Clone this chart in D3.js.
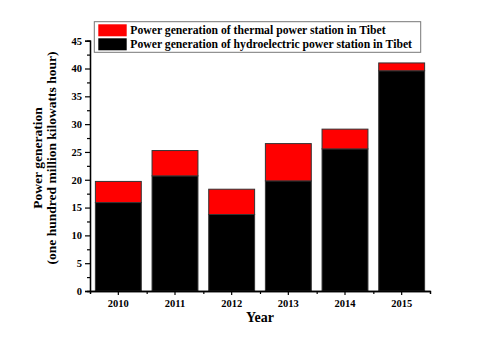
<!DOCTYPE html>
<html>
  <head>
    <script src="https://d3js.org/d3.v7.min.js"></script>
    <style>
      body { margin: 0; background: #fff; }
      text { font-family: "Liberation Serif", "Times New Roman", serif; font-weight: bold; }
    </style>
  </head>
  <body>
    <svg id="chart" width="500" height="349"></svg>
    <script>
      const years = ["2010", "2011", "2012", "2013", "2014", "2015"];
      const hydro = [15.9, 20.7, 13.75, 19.8, 25.55, 39.6];
      const thermal = [3.8, 4.55, 4.55, 6.7, 3.55, 1.4];
      const yTicks = [0, 5, 10, 15, 20, 25, 30, 35, 40, 45];
      const legendLabels = ["Power generation of thermal power station in Tibet",
                            "Power generation of hydroelectric power station in Tibet"];

      const svg = d3.select("#chart");
      const margins = {top: 40.7, right: 70, bottom: 58, left: 90};
      const width = 500 - margins.left - margins.right;
      const height = 349 - margins.top - margins.bottom;
      const g = svg.append("g").attr("transform", `translate(${margins.left},${margins.top})`);

      const x = d3.scaleBand().domain(years).range([0, width]);
      const y = d3.scaleLinear().domain([0, 45]).range([height, 0]);
      const barW = x.step() * 0.81;

      // bars
      years.forEach((yr, i) => {
        const cx = x(yr) + x.bandwidth() / 2;
        g.append("rect")
          .attr("x", cx - barW / 2)
          .attr("y", y(hydro[i]))
          .attr("width", barW)
          .attr("height", y(0) - y(hydro[i]))
          .attr("fill", "black")
          .attr("stroke", "#333")
          .attr("stroke-width", 1);
        g.append("rect")
          .attr("x", cx - barW / 2)
          .attr("y", y(hydro[i] + thermal[i]))
          .attr("width", barW)
          .attr("height", y(hydro[i]) - y(hydro[i] + thermal[i]))
          .attr("fill", "red")
          .attr("stroke", "#333")
          .attr("stroke-width", 1);
      });

      // y axis
      g.append("g").call(d3.axisLeft(y).tickValues(yTicks).tickSize(5).tickPadding(3));
      g.append("g").call(d3.axisLeft(y).tickValues(d3.range(2.5, 45, 5)).tickSize(3).tickFormat(""));
      // x axis
      g.append("g").attr("transform", `translate(0,${height})`)
        .call(d3.axisBottom(x).tickSize(4).tickPadding(5).tickSizeOuter(0));
      const bounds = d3.scaleLinear().domain([0, years.length]).range([0, width]);
      g.append("g").attr("transform", `translate(0,${height})`)
        .call(d3.axisBottom(bounds).tickValues(d3.range(0, years.length + 1)).tickSize(3).tickFormat(""));

      g.selectAll(".domain").attr("stroke", "black").attr("stroke-width", 1.3);
      g.selectAll(".tick line").attr("stroke", "black").attr("stroke-width", 1.2);
      g.selectAll(".tick text").attr("font-size", 10.5).attr("fill", "black")
        .style("font-family", "'Liberation Serif', serif").style("font-weight", "bold");

      // axis titles
      svg.append("text")
        .attr("x", margins.left + width / 2)
        .attr("y", 322)
        .attr("text-anchor", "middle")
        .attr("font-size", 14)
        .text("Year");
      const yl = svg.append("text")
        .attr("transform", "translate(42,158) rotate(-90)")
        .attr("text-anchor", "middle")
        .attr("font-size", 13.5);
      yl.append("tspan").attr("x", 0).attr("dy", 0).text("Power generation");
      yl.append("tspan").attr("x", 0).attr("dy", 14).text("(one hundred million kilowatts hour)");

      // legend
      const lg = svg.append("g").attr("transform", "translate(94.3,21.7)");
      lg.append("rect").attr("width", 326.4).attr("height", 30.6)
        .attr("fill", "white").attr("stroke", "#777").attr("stroke-width", 1);
      const swatch = ["red", "black"];
      legendLabels.forEach((t, i) => {
        lg.append("rect").attr("x", 4).attr("y", 2.6 + i * 14)
          .attr("width", 28.4).attr("height", 12).attr("fill", swatch[i]);
        lg.append("text").attr("x", 36).attr("y", 12.5 + i * 14)
          .attr("font-size", 11.7).text(t);
      });
    </script>
  </body>
</html>
